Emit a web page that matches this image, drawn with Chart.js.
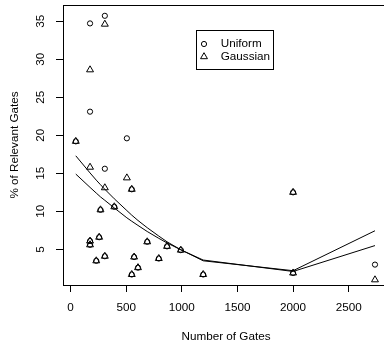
<!DOCTYPE html>
<html>
<head>
<meta charset="utf-8">
<script src="https://cdn.jsdelivr.net/npm/chart.js@4/dist/chart.umd.min.js"></script>
<style>
  html, body { margin: 0; padding: 0; overflow: hidden; background: #fff; }
  #wrap { width: 394px; height: 350px; }
</style>
</head>
<body>
<div id="wrap"><canvas id="gates"></canvas></div>
<script>
// gate count / % of relevant gates, one entry per run
const uniformX = [47, 175, 308, 175, 506, 308, 550, 269, 393, 175, 175, 257, 231, 308, 571, 606, 550, 689, 793, 867, 991, 1192, 2000, 2000, 2736];
const uniformY = [19.2, 34.7, 35.7, 23.1, 19.6, 15.6, 12.9, 10.2, 10.6, 6.1, 5.6, 6.6, 3.5, 4.1, 4.0, 2.6, 1.7, 6.0, 3.8, 5.4, 4.9, 1.7, 1.9, 12.5, 3.0];
const gaussianX = [47, 175, 308, 175, 506, 308, 550, 269, 393, 175, 175, 257, 231, 308, 571, 606, 550, 689, 793, 867, 991, 1192, 2000, 2000, 2736];
const gaussianY = [19.2, 28.6, 34.6, 15.8, 14.4, 13.1, 12.9, 10.2, 10.6, 6.1, 5.6, 6.6, 3.5, 4.1, 4.0, 2.6, 1.7, 6.0, 3.8, 5.4, 4.9, 1.7, 1.9, 12.5, 1.0];

// fitted curves at the sorted gate counts
const fitX = [47, 175, 231, 269, 308, 393, 506, 550, 606, 689, 793, 867, 991, 1192, 2000, 2736];
const uniformFit = [17.3, 15.05, 14.1, 13.5, 12.9, 11.65, 10.1, 9.5, 8.8, 7.85, 6.75, 6.0, 4.95, 3.5, 2.2, 7.45];
const gaussianFit = [14.9, 13.15, 12.4, 11.9, 11.45, 10.45, 9.15, 8.7, 8.15, 7.35, 6.45, 5.85, 4.95, 3.6, 2.1, 5.5];

const xTicks = [0, 500, 1000, 1500, 2000, 2500];
const yTicks = [5, 10, 15, 20, 25, 30, 35];

const pairs = (xs, ys) => xs.map((x, i) => ({x: x, y: ys[i]}));

Chart.defaults.font.family = "'Liberation Sans', Arial, sans-serif";
Chart.defaults.font.size = 11.7;
Chart.defaults.color = '#000';

function drawMark(ctx, style, x, y) {
    ctx.beginPath();
    if (style === 'circle') {
        ctx.arc(x, y, 2.6, 0, Math.PI * 2);
    } else {
        const r = 4;
        ctx.moveTo(x, y - r);
        ctx.lineTo(x + r * Math.sin(2 * Math.PI / 3), y + r / 2);
        ctx.lineTo(x - r * Math.sin(2 * Math.PI / 3), y + r / 2);
        ctx.closePath();
    }
    ctx.stroke();
}

// plot frame plus the little key box
const frameAndKey = {
    id: 'frameAndKey',
    afterDatasetsDraw(chart) {
        const {ctx, chartArea: a} = chart;
        ctx.save();
        ctx.strokeStyle = '#000';
        ctx.lineWidth = 1;
        ctx.strokeRect(Math.round(a.left) + 0.5, Math.round(a.top) + 0.5,
            Math.round(a.right - a.left), Math.round(a.bottom - a.top));

        const kx = Math.round(a.left) + 133, ky = Math.round(a.top) + 25;
        ctx.strokeRect(kx + 0.5, ky + 0.5, 77, 39);
        ctx.fillStyle = '#000';
        ctx.font = "11.7px 'Liberation Sans', Arial, sans-serif";
        ctx.textBaseline = 'middle';
        ctx.textAlign = 'left';
        chart.data.datasets.filter(d => d.key).forEach((d, i) => {
            const rowY = ky + 14 + i * 12.7;
            drawMark(ctx, d.pointStyle, kx + 8, rowY);
            ctx.fillText(d.label, kx + 24.7, rowY);
        });
        ctx.restore();
    }
};

const gridOpts = {
    display: true,
    drawOnChartArea: false,
    drawTicks: true,
    tickLength: 7,
    color: '#000',
    lineWidth: 1
};

new Chart(document.getElementById('gates'), {
    type: 'scatter',
    data: {
        datasets: [
            {
                label: 'Uniform',
                key: true,
                data: pairs(uniformX, uniformY),
                pointStyle: 'circle',
                pointRadius: 2.6,
                pointHoverRadius: 2.6,
                pointBorderColor: '#000',
                pointBackgroundColor: 'rgba(0,0,0,0)',
                pointBorderWidth: 1
            },
            {
                label: 'Gaussian',
                key: true,
                data: pairs(gaussianX, gaussianY),
                pointStyle: 'triangle',
                pointRadius: 4,
                pointHoverRadius: 4,
                pointBorderColor: '#000',
                pointBackgroundColor: 'rgba(0,0,0,0)',
                pointBorderWidth: 1
            },
            {
                label: 'Uniform fit',
                data: pairs(fitX, uniformFit),
                showLine: true,
                pointRadius: 0,
                borderColor: '#000',
                borderWidth: 1
            },
            {
                label: 'Gaussian fit',
                data: pairs(fitX, gaussianFit),
                showLine: true,
                pointRadius: 0,
                borderColor: '#000',
                borderWidth: 1
            }
        ]
    },
    options: {
        responsive: true,
        maintainAspectRatio: false,
        animation: false,
        events: [],
        layout: {padding: {top: 2, right: 1, bottom: 0, left: 0}},
        plugins: {
            legend: {display: false},
            tooltip: {enabled: false}
        },
        scales: {
            x: {
                type: 'linear',
                min: -68,
                max: 2862,
                afterBuildTicks: s => { s.ticks = xTicks.map(v => ({value: v})); },
                afterFit: s => {
                    s.height = 65;
                    s.paddingLeft = 0;
                    s.paddingRight = 0;
                },
                grid: gridOpts,
                border: {display: false},
                ticks: {padding: 9, maxRotation: 0, autoSkip: false, callback: v => String(v)},
                title: {display: true, text: 'Number of Gates', padding: {top: 0, bottom: 6}}
            },
            y: {
                type: 'linear',
                min: 0.32,
                max: 37.12,
                afterBuildTicks: s => { s.ticks = yTicks.map(v => ({value: v})); },
                afterFit: s => {
                    s.width = 63;
                    s.paddingTop = 0;
                    s.paddingBottom = 0;
                },
                grid: gridOpts,
                border: {display: false},
                ticks: {padding: 9, minRotation: 90, maxRotation: 90, crossAlign: 'center', autoSkip: false, callback: v => String(v)},
                title: {display: true, text: '% of Relevant Gates', padding: {top: 7.3, bottom: 0}}
            }
        }
    },
    plugins: [frameAndKey]
});
</script>
</body>
</html>
